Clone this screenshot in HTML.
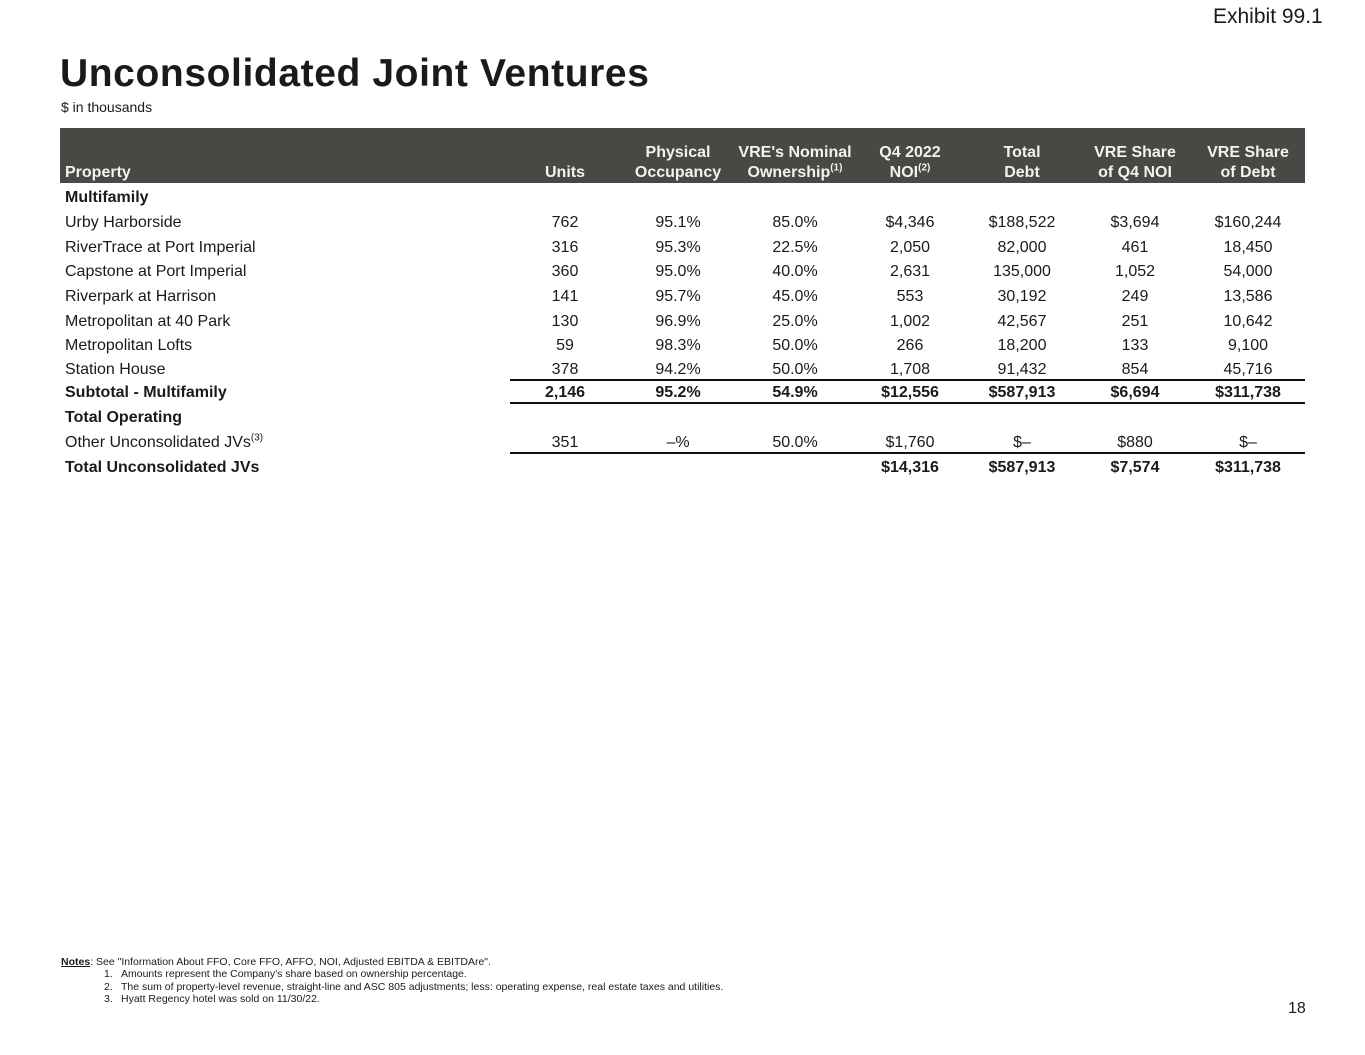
<!DOCTYPE html>
<html><head><meta charset="utf-8">
<style>
body{margin:0;background:#fff;}
#page{position:relative;width:1365px;height:1055px;overflow:hidden;background:#fff;font-family:"Liberation Sans Narrow","Liberation Sans",sans-serif;color:#1a1a1a;}
.abs{position:absolute;white-space:nowrap;}
.cell{position:absolute;white-space:nowrap;font-size:16px;line-height:20px;transform:translateX(-50%);text-align:center;}
.lbl{position:absolute;white-space:nowrap;font-size:16px;line-height:20px;left:65px;}
.b{font-weight:bold;}
.hdr{position:absolute;white-space:nowrap;font-size:16px;line-height:20px;color:#f2f2f2;font-weight:bold;transform:translateX(-50%);text-align:center;}
.line{position:absolute;height:2px;background:#111;left:510px;width:795px;}
sup{font-size:10px;line-height:0;}
.note{position:absolute;font-family:"Liberation Sans Narrow","Liberation Sans",sans-serif;font-size:10.5px;white-space:nowrap;}
</style></head>
<body>
<div id="page">
<div class="abs" style="left:1213px;top:5px;font-family:'Liberation Sans',sans-serif;font-size:21px;">Exhibit 99.1</div>
<div class="abs" style="left:60px;top:52px;font-family:'Liberation Sans',sans-serif;font-weight:bold;font-size:39px;letter-spacing:0.6px;">Unconsolidated Joint Ventures</div>
<div class="abs" style="left:61px;top:99px;font-size:14px;">$ in thousands</div>

<div class="abs" style="left:60px;top:128px;width:1245px;height:55px;background:#474a44;"></div>
<div class="abs" style="left:65px;top:163px;font-size:16px;line-height:20px;color:#f2f2f2;font-weight:bold;">Property</div>
<div id="headers"></div>
<div id="rows"></div>
<div class="line" style="top:379px;"></div>
<div class="line" style="top:402px;"></div>
<div class="line" style="top:452px;"></div>

<div class="note" style="left:61px;top:956px;"><u><b>Notes</b></u>: See "Information About FFO, Core FFO, AFFO, NOI, Adjusted EBITDA &amp; EBITDAre".</div>
<div class="note" style="left:104px;top:968px;">1.</div>
<div class="note" style="left:121px;top:968px;">Amounts represent the Company's share based on ownership percentage.</div>
<div class="note" style="left:104px;top:981px;">2.</div>
<div class="note" style="left:121px;top:981px;">The sum of property-level revenue, straight-line and ASC 805 adjustments; less: operating expense, real estate taxes and utilities.</div>
<div class="note" style="left:104px;top:993px;">3.</div>
<div class="note" style="left:121px;top:993px;">Hyatt Regency hotel was sold on 11/30/22.</div>
<div class="abs" style="left:1288px;top:1000px;font-family:'Liberation Sans',sans-serif;font-size:16px;">18</div>
</div>
<script>
const colCenters=[565,678,795,910,1022,1135,1248];
const headerLines=[["","Units"],["Physical","Occupancy"],["VRE's Nominal","Ownership<sup>(1)</sup>"],["Q4 2022","NOI<sup>(2)</sup>"],["Total","Debt"],["VRE Share","of Q4 NOI"],["VRE Share","of Debt"]];
const rowLabels=["Multifamily","Urby Harborside","RiverTrace at Port Imperial","Capstone at Port Imperial","Riverpark at Harrison","Metropolitan at 40 Park","Metropolitan Lofts","Station House","Subtotal - Multifamily","Total Operating","Other Unconsolidated JVs<sup>(3)</sup>","Total Unconsolidated JVs"];
const rowBold=[1,0,0,0,0,0,0,0,1,1,0,1];
const rowTops=[188,213,238,262,287,312,336,360,383,408,433,458];
const rowValues=[
[],
["762","95.1%","85.0%","$4,346","$188,522","$3,694","$160,244"],
["316","95.3%","22.5%","2,050","82,000","461","18,450"],
["360","95.0%","40.0%","2,631","135,000","1,052","54,000"],
["141","95.7%","45.0%","553","30,192","249","13,586"],
["130","96.9%","25.0%","1,002","42,567","251","10,642"],
["59","98.3%","50.0%","266","18,200","133","9,100"],
["378","94.2%","50.0%","1,708","91,432","854","45,716"],
["2,146","95.2%","54.9%","$12,556","$587,913","$6,694","$311,738"],
[],
["351","\u2013%","50.0%","$1,760","$\u2013","$880","$\u2013"],
["","","","$14,316","$587,913","$7,574","$311,738"]
];
const hd=document.getElementById('headers');
headerLines.forEach((h,i)=>{
  h.forEach((t,j)=>{
    if(!t) return;
    const d=document.createElement('div');
    d.className='hdr';
    
    
    d.style.left=colCenters[i]+'px';
    d.style.top=(j===0?143:163)+'px';
    d.innerHTML=t;
    hd.appendChild(d);
  });
});
const rw=document.getElementById('rows');
rowLabels.forEach((l,r)=>{
  const d=document.createElement('div');
  d.className='lbl'+(rowBold[r]?' b':'');
  
  
  d.style.top=rowTops[r]+'px';
  d.innerHTML=l;
  rw.appendChild(d);
  rowValues[r].forEach((v,c)=>{
    if(!v) return;
    const e=document.createElement('div');
    e.className='cell'+(rowBold[r]?' b':'');
    
    
    e.style.left=colCenters[c]+'px';
    e.style.top=rowTops[r]+'px';
    e.textContent=v;
    rw.appendChild(e);
  });
});
</script>
</body></html>
